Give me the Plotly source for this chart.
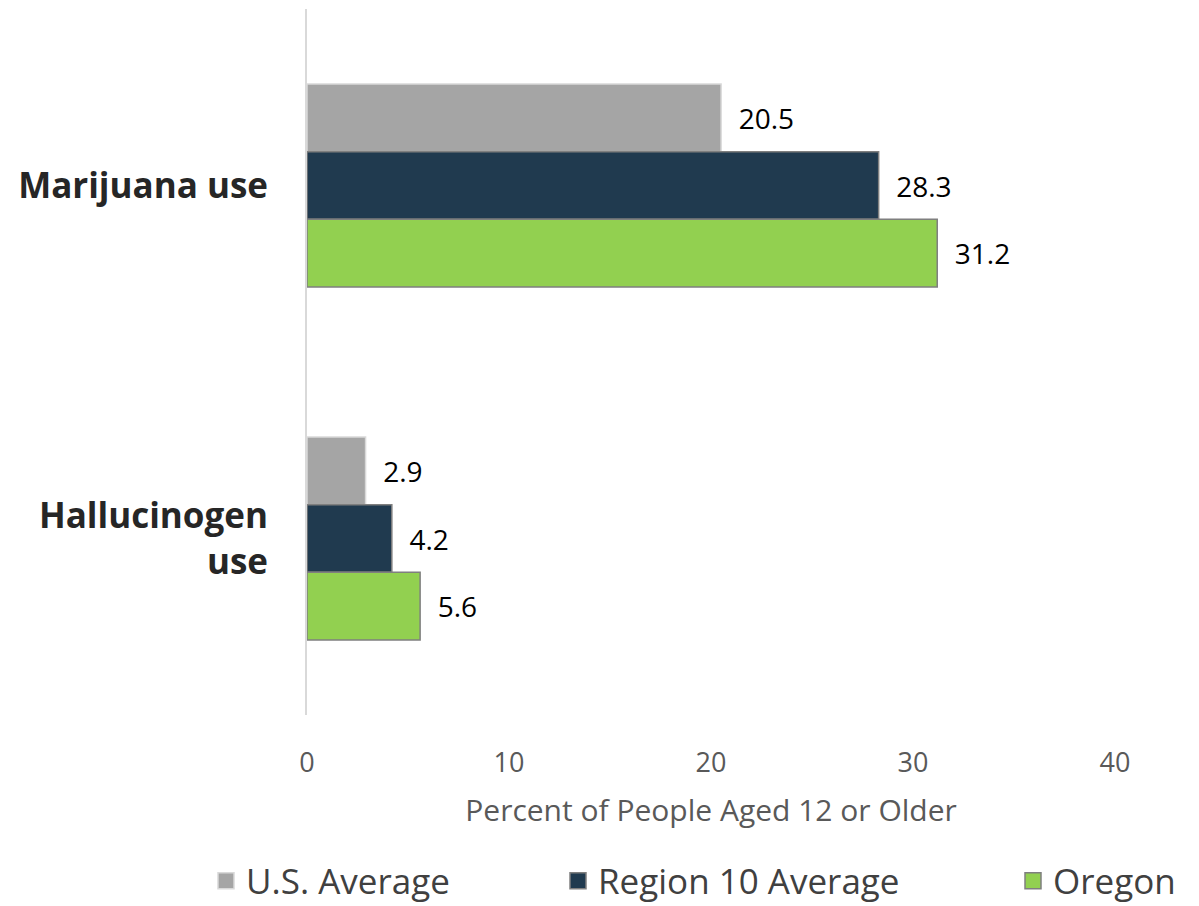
import plotly.graph_objects as go

categories = ["Marijuana use", "Hallucinogen<br>use"]
series_names = ["U.S. Average", "Region 10 Average", "Oregon"]
us_avg = [20.5, 2.9]
region10 = [28.3, 4.2]
oregon = [31.2, 5.6]
x_ticks = [0, 10, 20, 30, 40]

colors = ["#A5A5A5", "#203A4F", "#92D050"]
outlines = ["#D9D9D9", "#7F7F7F", "#7F7F7F"]
legend_ids = ["legend", "legend2", "legend3"]
legend_x = [198, 550, 1005]
FONT = "Open Sans, Noto Sans, sans-serif"

fig = go.Figure()
for name, vals, c, oc in zip(series_names, [us_avg, region10, oregon], colors, outlines):
    fig.add_trace(go.Bar(
        y=categories, x=vals, orientation="h", name=name,
        marker=dict(color=c, line=dict(color=oc, width=1.5)),
        texttemplate="\u00a0\u00a0%{x:.1f}", textposition="outside",
        textfont=dict(size=28, color="#000000", family=FONT),
        cliponaxis=False, showlegend=False,
    ))
for name, c, oc, lid in zip(series_names, colors, outlines, legend_ids):
    fig.add_trace(go.Scatter(
        x=[None], y=[None], mode="markers", name=name, legend=lid,
        marker=dict(symbol="square", size=16, color=c, line=dict(color=oc, width=1.5)),
        showlegend=True,
    ))

legend_common = dict(orientation="h", xref="container", xanchor="left",
                     yref="container", y=33/906, yanchor="middle",
                     font=dict(size=35, color="#404040"))
fig.update_layout(
    width=1199, height=906,
    margin=dict(l=299, r=92, t=1, b=199, autoexpand=False),
    paper_bgcolor="white", plot_bgcolor="white",
    barmode="group", bargap=0.425, bargroupgap=0,
    font=dict(family=FONT),
    xaxis=dict(range=[0, 40], tickvals=x_ticks, showgrid=False, zeroline=False,
               showline=False, tickfont=dict(size=27, color="#595959"),
               ticklabelstandoff=29,
               title=dict(text="Percent of People Aged 12 or Older",
                          font=dict(size=30, color="#595959"), standoff=20)),
    yaxis=dict(autorange="reversed", showgrid=False, zeroline=False,
               showline=True, linecolor="#D9D9D9", linewidth=2,
               tickfont=dict(size=35, color="#262626", family=FONT, weight="bold"),
               ticklabelstandoff=30),
    legend=dict(x=legend_x[0]/1199, **legend_common),
    legend2=dict(x=legend_x[1]/1199, **legend_common),
    legend3=dict(x=legend_x[2]/1199, **legend_common),
)
fig.write_html("out.html")
